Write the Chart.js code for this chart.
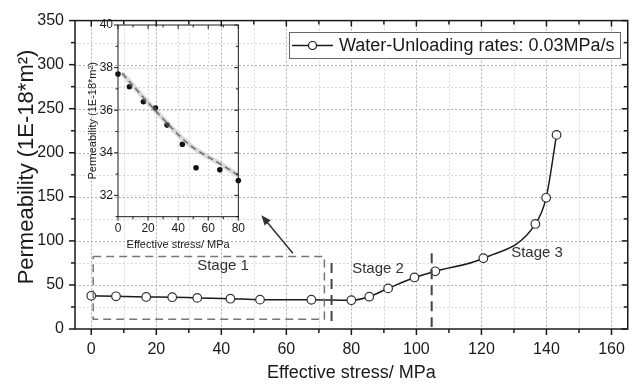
<!DOCTYPE html>
<html>
<head>
<meta charset="utf-8">
<script src="https://cdn.jsdelivr.net/npm/chart.js@4.4.1/dist/chart.umd.min.js"></script>
<style>
  html, body { margin: 0; padding: 0; background: #fff; }
  #wrap { position: relative; width: 636px; height: 385px; }
  #mainChart { position: absolute; left: 0; top: 0; }
  #insetChart { position: absolute; left: 80px; top: 10px; }
</style>
</head>
<body>
<div id="wrap">
  <canvas id="mainChart" width="636" height="385"></canvas>
  <canvas id="insetChart" width="170" height="245"></canvas>
</div>
<script>
// effective stress (MPa) vs permeability (1E-18 m^2)
const stress = [0, 7.6, 16.9, 24.9, 32.6, 42.8, 51.9, 67.7, 80.0, 85.5, 91.3, 99.4, 105.8, 120.6, 136.6, 139.9, 143.1];
const permeability = [37.7, 37.1, 36.4, 36.1, 35.3, 34.4, 33.3, 33.2, 32.7, 36.7, 46.1, 58.5, 65.5, 80.3, 119.2, 148.9, 220.3];

// inset shows the first stage points plus the dashed fit curve
const insetCount = 9;
const fitStress = [2.8, 16.9, 30.9, 42.8, 52.5, 67.7, 80];
const fitPerm = [37.73, 36.6, 35.53, 34.67, 34.12, 33.49, 32.94];

const xTicks = [0, 20, 40, 60, 80, 100, 120, 140, 160];
const yTicks = [0, 50, 100, 150, 200, 250, 300, 350];
const insetXTicks = [0, 20, 40, 60, 80];
const insetYTicks = [32, 34, 36, 38, 40];

const seriesLabel = 'Water-Unloading rates: 0.03MPa/s';
const yTitle = 'Permeability (1E-18*m\u00B2)';
const FONT = '"Liberation Sans", Arial, sans-serif';
const INK = '#1a1a1a';

function seg(ctx, x1, y1, x2, y2) {
    ctx.beginPath();
    ctx.moveTo(x1, y1);
    ctx.lineTo(x2, y2);
    ctx.stroke();
}

// grid lines (dotted), drawn under the data
function drawGrid(chart, xVals, yVals, majorX, majorY) {
    const { ctx, chartArea: a, scales: { x, y } } = chart;
    ctx.save();
    ctx.lineWidth = 1;
    ctx.setLineDash([2, 2]);
    xVals.forEach(v => {
        const px = Math.round(x.getPixelForValue(v)) + 0.5;
        ctx.strokeStyle = majorX.includes(v) ? '#b0b0b0' : '#dadada';
        seg(ctx, px, a.top, px, a.bottom);
    });
    yVals.forEach(v => {
        const py = Math.round(y.getPixelForValue(v)) + 0.5;
        ctx.strokeStyle = majorY.includes(v) ? '#b0b0b0' : '#dadada';
        seg(ctx, a.left, py, a.right, py);
    });
    ctx.restore();
}

// box round the plot, ticks out on bottom/left, in on top/right
function drawFrame(chart, xVals, yVals, majorX, majorY, lenMajor, lenMinor, width) {
    const { ctx, chartArea: a, scales: { x, y } } = chart;
    ctx.save();
    ctx.strokeStyle = INK;
    ctx.lineWidth = width;
    ctx.setLineDash([]);
    ctx.strokeRect(a.left, a.top, a.right - a.left, a.bottom - a.top);
    xVals.forEach(v => {
        const px = x.getPixelForValue(v);
        const len = majorX.includes(v) ? lenMajor : lenMinor;
        seg(ctx, px, a.bottom, px, a.bottom + len);
        seg(ctx, px, a.top, px, a.top + len);
    });
    yVals.forEach(v => {
        const py = y.getPixelForValue(v);
        const len = majorY.includes(v) ? lenMajor : lenMinor;
        seg(ctx, a.left - len, py, a.left, py);
        seg(ctx, a.right - len, py, a.right, py);
    });
    ctx.restore();
}

function rotatedText(ctx, text, cx, cy, size) {
    ctx.save();
    ctx.translate(cx, cy);
    ctx.rotate(-Math.PI / 2);
    ctx.fillStyle = INK;
    ctx.textAlign = 'center';
    ctx.textBaseline = 'middle';
    ctx.font = size + 'px ' + FONT;
    ctx.fillText(text, 0, 0);
    ctx.restore();
}

const mainXGrid = [];
for (let v = 0; v <= 160; v += 10) mainXGrid.push(v);
const mainYGrid = [];
for (let v = 25; v < 350; v += 25) mainYGrid.push(v);

const mainDecor = {
    id: 'mainDecor',
    beforeDatasetsDraw(chart) {
        drawGrid(chart, mainXGrid, mainYGrid, xTicks, yTicks);
    },
    afterDatasetsDraw(chart) {
        const { ctx, scales: { x, y } } = chart;
        const X = v => x.getPixelForValue(v);
        const Y = v => y.getPixelForValue(v);
        drawFrame(chart, mainXGrid, [0, ...mainYGrid, 350], xTicks, yTicks, 6, 4, 1.5);

        ctx.save();
        // stage 1 box
        ctx.strokeStyle = '#777';
        ctx.lineWidth = 1.5;
        ctx.setLineDash([8, 5]);
        ctx.strokeRect(X(0.6), Y(82.2), X(71.7) - X(0.6), Y(11.1) - Y(82.2));
        // stage dividers
        ctx.strokeStyle = '#444';
        ctx.lineWidth = 2;
        ctx.setLineDash([10, 6]);
        seg(ctx, X(73.9), Y(74.8), X(73.9), Y(6.7));
        seg(ctx, X(104.7), Y(85.9), X(104.7), Y(2.2));

        // arrow pointing at the inset
        ctx.setLineDash([]);
        ctx.strokeStyle = '#333';
        ctx.fillStyle = '#333';
        ctx.lineWidth = 1.5;
        const tx = X(62), ty = Y(85.9), hx = X(52.3), hy = Y(129.2);
        const ang = Math.atan2(hy - ty, hx - tx);
        seg(ctx, tx, ty, hx - 6 * Math.cos(ang), hy - 6 * Math.sin(ang));
        ctx.beginPath();
        ctx.moveTo(hx, hy);
        ctx.lineTo(hx - 10 * Math.cos(ang) + 4 * Math.sin(ang), hy - 10 * Math.sin(ang) - 4 * Math.cos(ang));
        ctx.lineTo(hx - 10 * Math.cos(ang) - 4 * Math.sin(ang), hy - 10 * Math.sin(ang) + 4 * Math.cos(ang));
        ctx.closePath();
        ctx.fill();

        // stage labels
        ctx.fillStyle = '#333';
        ctx.font = '15px ' + FONT;
        ctx.textAlign = 'center';
        ctx.textBaseline = 'middle';
        ctx.fillText('Stage 1', 223, 266);
        ctx.fillText('Stage 2', 378, 269);
        ctx.fillText('Stage 3', 537, 253);

        // legend
        ctx.fillStyle = '#fff';
        ctx.fillRect(290, 32, 331, 26);
        ctx.strokeStyle = '#666';
        ctx.lineWidth = 1;
        ctx.strokeRect(289.5, 32.5, 331, 26);
        ctx.strokeStyle = INK;
        ctx.lineWidth = 1.5;
        seg(ctx, 292, 45.5, 333, 45.5);
        ctx.beginPath();
        ctx.arc(312.5, 45.5, 4, 0, Math.PI * 2);
        ctx.fillStyle = '#fff';
        ctx.fill();
        ctx.lineWidth = 1.2;
        ctx.stroke();
        ctx.fillStyle = INK;
        ctx.font = '18px ' + FONT;
        ctx.textAlign = 'left';
        ctx.fillText(seriesLabel, 339, 46);
        ctx.restore();

        rotatedText(ctx, yTitle, 27, 167, 22);
    }
};

new Chart(document.getElementById('mainChart'), {
    type: 'scatter',
    data: {
        datasets: [{
            label: seriesLabel,
            data: stress.map((s, i) => ({ x: s, y: permeability[i] })),
            showLine: true,
            borderColor: INK,
            borderWidth: 1.5,
            cubicInterpolationMode: 'monotone',
            pointRadius: 4.3,
            pointBackgroundColor: '#fff',
            pointBorderColor: '#333',
            pointBorderWidth: 1.2
        }]
    },
    options: {
        responsive: false,
        animation: false,
        devicePixelRatio: 1,
        layout: { padding: { top: 14, right: 2 } },
        plugins: { legend: { display: false }, tooltip: { enabled: false } },
        scales: {
            x: {
                type: 'linear', min: -5, max: 165,
                afterBuildTicks: s => { s.ticks = xTicks.map(v => ({ value: v })); },
                afterFit: s => { s.height = 56; },
                grid: { display: false, drawTicks: false },
                border: { display: false },
                ticks: { font: { family: FONT, size: 16 }, color: INK, padding: 11, maxRotation: 0 },
                title: { display: true, text: 'Effective stress/ MPa', color: INK, font: { family: FONT, size: 18 }, padding: { top: 0, bottom: 1 } }
            },
            y: {
                type: 'linear', min: 0, max: 350,
                afterBuildTicks: s => { s.ticks = yTicks.map(v => ({ value: v })); },
                afterFit: s => { s.width = 75; },
                grid: { display: false, drawTicks: false },
                border: { display: false },
                ticks: { font: { family: FONT, size: 16 }, color: INK, padding: 11 }
            }
        }
    },
    plugins: [mainDecor]
});

const insetXGrid = [0, 10, 20, 30, 40, 50, 60, 70, 80];
const insetYGrid = [31, 32, 33, 34, 35, 36, 37, 38, 39, 40];

const insetDecor = {
    id: 'insetDecor',
    beforeDatasetsDraw(chart) {
        drawGrid(chart, [20, 40, 60], [32, 34, 36, 38], [], []);
    },
    afterDatasetsDraw(chart) {
        const a = chart.chartArea;
        drawFrame(chart, insetXGrid, insetYGrid, insetXTicks, insetYTicks, 4, 2.5, 1);
        rotatedText(chart.ctx, yTitle, 12.5, (a.top + a.bottom) / 2, 11);
    }
};

new Chart(document.getElementById('insetChart'), {
    type: 'scatter',
    data: {
        datasets: [{
            data: fitStress.map((s, i) => ({ x: s, y: fitPerm[i] })),
            showLine: true,
            borderColor: 'rgba(150,150,150,0.35)',
            borderWidth: 5,
            tension: 0.4,
            pointRadius: 0
        }, {
            data: fitStress.map((s, i) => ({ x: s, y: fitPerm[i] })),
            showLine: true,
            borderColor: '#555',
            borderWidth: 1.5,
            borderDash: [6, 4],
            tension: 0.4,
            pointRadius: 0
        }, {
            data: stress.slice(0, insetCount).map((s, i) => ({ x: s, y: permeability[i] })),
            pointRadius: 2.8,
            pointBackgroundColor: '#111',
            pointBorderWidth: 0,
            clip: false
        }]
    },
    options: {
        responsive: false,
        animation: false,
        devicePixelRatio: 1,
        layout: { padding: { top: 15, right: 8 } },
        plugins: { legend: { display: false }, tooltip: { enabled: false } },
        scales: {
            x: {
                type: 'linear', min: 0, max: 80,
                afterBuildTicks: s => { s.ticks = insetXTicks.map(v => ({ value: v })); },
                afterFit: s => { s.height = 38.3; },
                grid: { display: false, drawTicks: false },
                border: { display: false },
                ticks: { font: { family: FONT, size: 12 }, color: INK, padding: 5, maxRotation: 0 },
                title: { display: true, text: 'Effective stress/ MPa', color: INK, font: { family: FONT, size: 11 }, padding: { top: 0, bottom: 3 } }
            },
            y: {
                type: 'linear', min: 31, max: 40,
                afterBuildTicks: s => { s.ticks = insetYTicks.map(v => ({ value: v })); },
                afterFit: s => { s.width = 38; },
                grid: { display: false, drawTicks: false },
                border: { display: false },
                ticks: { font: { family: FONT, size: 12 }, color: INK, padding: 5 }
            }
        }
    },
    plugins: [insetDecor]
});
</script>
</body>
</html>
